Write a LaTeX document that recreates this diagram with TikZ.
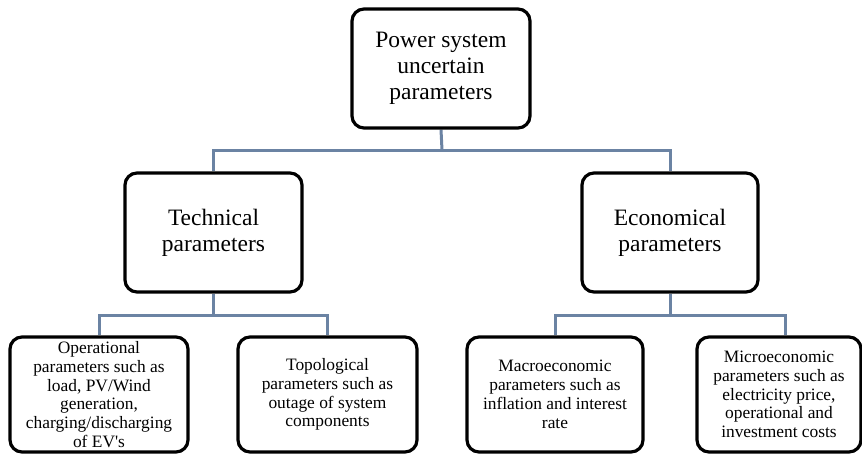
\documentclass[tikz,border=0pt]{standalone}
\usepackage{fontspec}
\setmainfont{Liberation Serif}
\usetikzlibrary{backgrounds}
\definecolor{linkc}{RGB}{107,131,163}
\begin{document}
\begin{tikzpicture}[x=1pt,y=-1pt,
  box/.style={draw=black, line width=3.2pt, rounded corners=12pt, fill=white, align=center, inner sep=0pt},
  big/.style={font=\fontsize{23.5}{26}\selectfont},
  small/.style={font=\fontsize{17.4}{18.8}\selectfont},
  conn/.style={draw=linkc, line width=3pt}]
\useasboundingbox (0,0) rectangle (862,455);
\node[box,big,minimum width=178pt,minimum height=119pt] (root) at (441,68.5) {Power system\\uncertain\\parameters};
\node[box,big,minimum width=177pt,minimum height=119pt] (tech) at (213.5,232.5) {Technical\\parameters};
\node[box,big,minimum width=176pt,minimum height=119pt] (econ) at (670,232.5) {Economical\\parameters};
\node[box,small,minimum width=178pt,minimum height=115pt] (b1) at (99,394.5) {Operational\\parameters such as\\load, PV/Wind\\generation,\\charging/discharging\\of EV\textquotesingle s};
\node[box,small,minimum width=179pt,minimum height=115pt] (b2) at (327.5,394.5) {Topological\\parameters such as\\outage of system\\components};
\node[box,small,minimum width=176pt,minimum height=115pt] (b3) at (555,394.5) {Macroeconomic\\parameters such as\\inflation and interest\\rate};
\node[box,small,minimum width=164pt,minimum height=115pt] (b4) at (779,394.5) {Microeconomic\\parameters such as\\electricity price,\\operational and\\investment costs};
\coordinate (j1) at (442,150);
\coordinate (j2) at (213.5,315);
\coordinate (j3) at (670,315);
\begin{scope}[on background layer]
\draw[conn] (root.south) -- (j1);
\draw[conn] (tech.north) |- (j1) -| (econ.north);
\draw[conn] (tech.south) -- (j2);
\draw[conn] (b1.north) |- (j2) -| (b2.north);
\draw[conn] (econ.south) -- (j3);
\draw[conn] (b3.north) |- (j3) -| ([xshift=6pt]b4.north);
\end{scope}
\end{tikzpicture}
\end{document}
